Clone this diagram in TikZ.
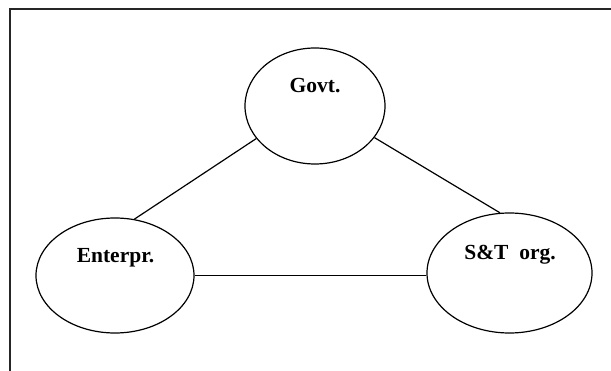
\documentclass[tikz,border=0pt]{standalone}
\usepackage{fontspec}
\setmainfont{Liberation Serif}
\usetikzlibrary{shapes.geometric}
\begin{document}
\begin{tikzpicture}[x=1pt,y=-1pt,
  party/.style={draw=black, ellipse, line width=1.2pt, inner sep=0pt},
  tag/.style={font=\fontsize{21.5}{23}\selectfont\bfseries, inner sep=0pt, anchor=base},
  link/.style={draw=black, line width=1.2pt},
  frame/.style={draw=black!85, line width=1.4pt}]
\useasboundingbox (0,0) rectangle (611,371);
% open frame: top and left edges only
\coordinate (fl) at (10,371);
\coordinate (fc) at (10,9);
\coordinate (fr) at (611,9);
\draw[frame] (fl) -- (fc) -- (fr);
% the three actors
\node[party, minimum width=140pt, minimum height=116pt] (G) at (315,106) {};
\node[party, minimum width=158pt, minimum height=115pt] (E) at (115,275.5) {};
\node[party, minimum width=165pt, minimum height=120pt] (S) at (509.5,273) {};
\node[tag] (Gt) at (315,93) {Govt.};
\node[tag] (Et) at (115.5,263) {Enterpr.};
\node[tag] (St) at (510,260) {S\&T\ \ org.};
% links between them
\draw[link] (G.209.7) -- (E.71.7);
\draw[link] (G.332) -- (S.99.3);
\draw[link] (E.east) -- (E.east -| S.west);
\end{tikzpicture}
\end{document}
